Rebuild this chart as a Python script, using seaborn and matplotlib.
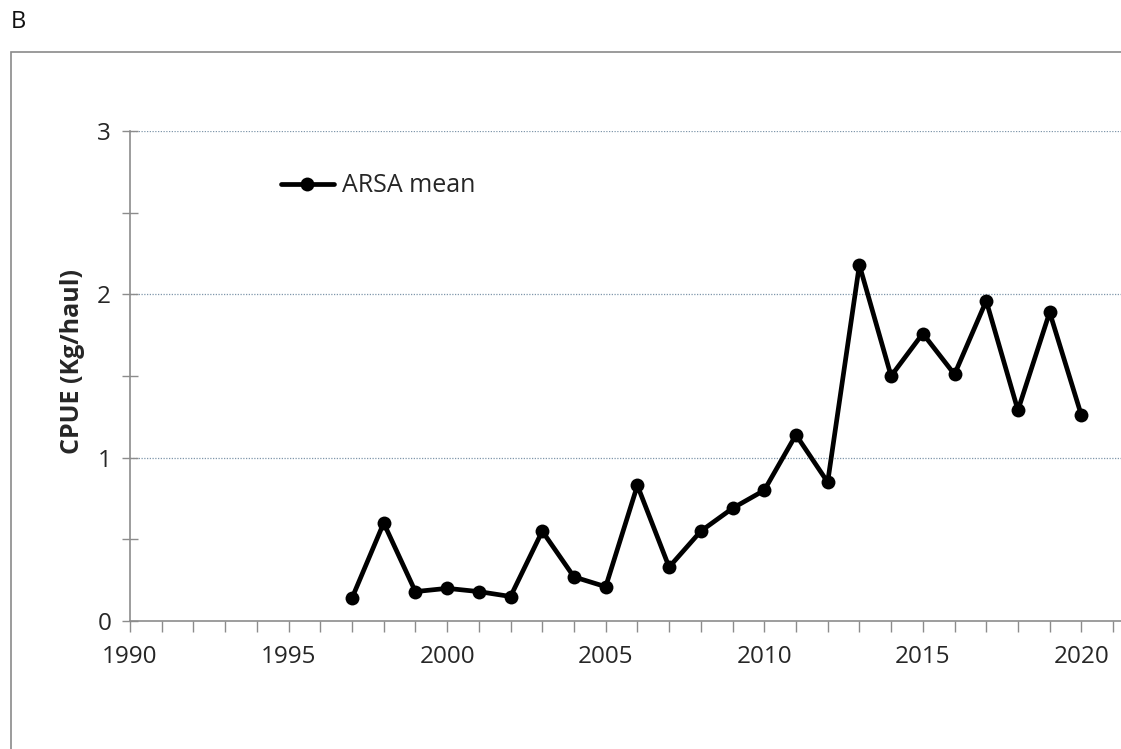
import matplotlib
matplotlib.use("Agg")
import matplotlib.pyplot as plt
from matplotlib.patches import Rectangle
from matplotlib.ticker import MultipleLocator
import numpy as np
import pandas as pd
import seaborn as sns

# CPUE series (kg per haul), ARSA survey mean by year
years = [1997, 1998, 1999, 2000, 2001, 2002, 2003, 2004, 2005, 2006, 2007, 2008,
         2009, 2010, 2011, 2012, 2013, 2014, 2015, 2016, 2017, 2018, 2019, 2020]
arsa_mean = [0.14, 0.60, 0.18, 0.20, 0.18, 0.15, 0.55, 0.27, 0.21, 0.83, 0.33, 0.55,
             0.69, 0.80, 1.14, 0.85, 2.18, 1.50, 1.76, 1.51, 1.96, 1.29, 1.89, 1.26]
series_name = "ARSA mean"
x_ticks = [1990, 1995, 2000, 2005, 2010, 2015, 2020]
y_ticks = [0, 1, 2, 3]

sns.set_theme(style="white")
plt.rcParams["font.family"] = ["Open Sans", "DejaVu Sans"]

df = pd.DataFrame({"year": years, "cpue": arsa_mean, "series": series_name})

fig = plt.figure(figsize=(11.21, 7.49), dpi=100)
ax = fig.add_axes([130 / 1121, 1 - 621 / 749, 1 - 130 / 1121, (621 - 131) / 749])

sns.lineplot(data=df, x="year", y="cpue", hue="series", palette=["black"],
             marker="o", markersize=10, linewidth=3.4, markeredgewidth=0,
             ax=ax, legend=True)

ax.set_xlim(1990, 2021.25)
ax.set_ylim(0, 3)
ax.set_xticks(x_ticks)
ax.set_xticklabels([str(v) for v in x_ticks])
ax.xaxis.set_minor_locator(MultipleLocator(1))
ax.set_yticks(y_ticks)
ax.set_yticklabels([str(v) for v in y_ticks])
ax.yaxis.set_minor_locator(MultipleLocator(0.5))

grey = "#8c8c8c"
ax.tick_params(axis="x", which="both", direction="out", length=8, width=1,
               color=grey, bottom=True, labelsize=17.5, labelcolor="#262626", pad=9)
ax.tick_params(axis="y", which="both", direction="inout", length=11, width=1,
               color=grey, left=True, labelsize=17.5, labelcolor="#262626", pad=8)

for side in ("top", "right"):
    ax.spines[side].set_visible(False)
for side in ("left", "bottom"):
    ax.spines[side].set_color(grey)
    ax.spines[side].set_linewidth(1.2)

ax.grid(False)
for yv in y_ticks[1:]:
    ax.axhline(yv, color="#7f96aa", linewidth=0.9, linestyle=(0, (1, 1.2)), zorder=0)

ax.set_xlabel("")
ax.set_ylabel("CPUE (Kg/haul)", fontsize=18, fontweight="bold")
ax.yaxis.set_label_coords(-45 / 991, 0.53)

leg = ax.legend(loc="center left", bbox_to_anchor=(281 / 1121, 1 - 186 / 749),
                bbox_transform=fig.transFigure, frameon=False, fontsize=18,
                handlelength=2.1, handletextpad=0.35, borderpad=0, borderaxespad=0)
leg.set_title(None)

# outer frame around the chart area
fig.patches.append(Rectangle((11 / 1121, -0.05), 1.2, 1 - 52 / 749 + 0.05,
                             transform=fig.transFigure, fill=False,
                             edgecolor="#8a8a8a", linewidth=1.2))

fig.text(18 / 1121, 1 - 22 / 749, "B", fontsize=17, va="center", ha="center",
         color="#111111")

fig.savefig("out.png", dpi=100)
